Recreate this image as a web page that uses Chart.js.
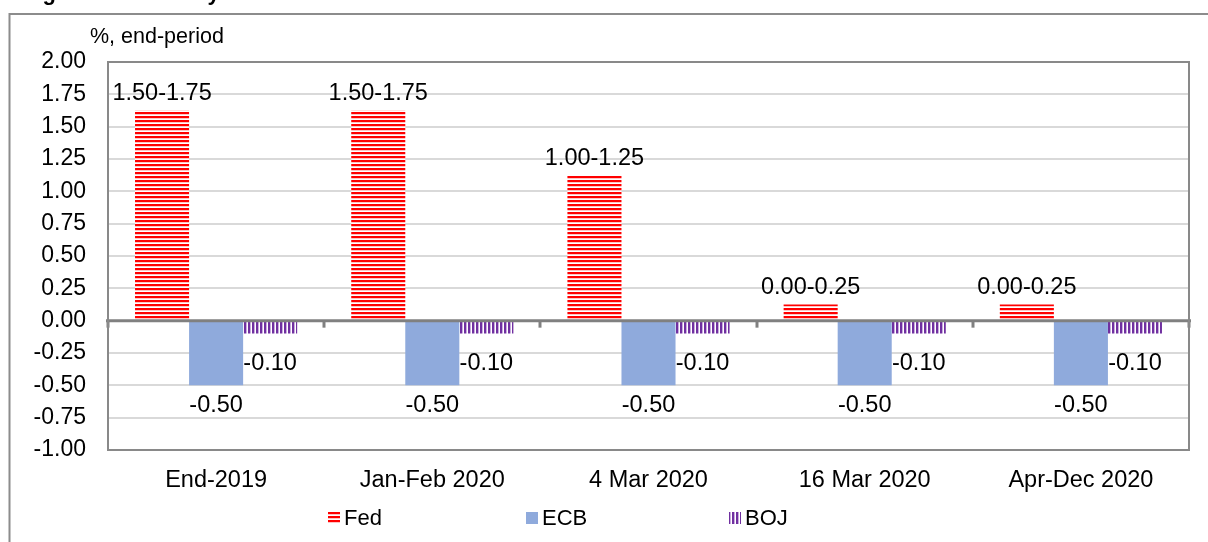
<!DOCTYPE html>
<html>
<head>
<meta charset="utf-8">
<script src="https://cdn.jsdelivr.net/npm/chart.js@4.4.1/dist/chart.umd.min.js"></script>
<style>
  html, body { margin: 0; padding: 0; background: #ffffff; }
  #wrap { position: relative; width: 1208px; height: 542px; overflow: hidden; }
  canvas { display: block; }
</style>
</head>
<body>
<div id="wrap"><canvas id="c" width="1208" height="542"></canvas></div>
<script>
// ---------- data ----------
const categories = ['End-2019', 'Jan-Feb 2020', '4 Mar 2020', '16 Mar 2020', 'Apr-Dec 2020'];
const fedValues = [1.625, 1.625, 1.125, 0.125, 0.125];
const fedLabels = ['1.50-1.75', '1.50-1.75', '1.00-1.25', '0.00-0.25', '0.00-0.25'];
const ecbValues = [-0.50, -0.50, -0.50, -0.50, -0.50];
const bojValues = [-0.10, -0.10, -0.10, -0.10, -0.10];
const seriesNames = ['Fed', 'ECB', 'BOJ'];
const yMin = -1.0, yMax = 2.0, yStep = 0.25;
const axisTitle = '%, end-period';
const figureTitle = 'Figure 1: Monetary Rates of the Three Main Central Banks';

const FONT = '"Liberation Sans", Arial, sans-serif';

// ---------- patterns ----------
function makeFedPattern() {
  const p = document.createElement('canvas');
  p.width = 4; p.height = 4;
  const g = p.getContext('2d');
  g.fillStyle = '#ffffff'; g.fillRect(0, 0, 4, 4);
  g.fillStyle = '#ff0000'; g.fillRect(0, 0, 4, 2);
  g.fillStyle = '#ffc4c4'; g.fillRect(0, 2, 4, 1);
  return g.createPattern(p, 'repeat');
}
function makeBojPattern() {
  const p = document.createElement('canvas');
  p.width = 4; p.height = 4;
  const g = p.getContext('2d');
  g.fillStyle = '#ffffff'; g.fillRect(0, 0, 4, 4);
  g.fillStyle = '#7030a0'; g.fillRect(0, 0, 2, 4);
  g.fillStyle = '#c9acdf'; g.fillRect(2, 0, 1, 4);
  return g.createPattern(p, 'repeat');
}
const fedFill = makeFedPattern();
const ecbFill = '#8faadc';
const bojFill = makeBojPattern();

// ---------- plugins ----------
const decor = {
  id: 'decor',
  beforeDraw(chart) {
    const ctx = chart.ctx;
    ctx.save();
    // outer frame (top & left)
    ctx.strokeStyle = '#8c8c8c';
    ctx.lineWidth = 2;
    ctx.beginPath();
    ctx.moveTo(9.5, 542); ctx.lineTo(9.5, 14); ctx.lineTo(1208, 14);
    ctx.stroke();
    // partially visible figure title (only descenders show)
    ctx.fillStyle = '#000000';
    ctx.font = 'bold 22px ' + FONT;
    ctx.textAlign = 'left';
    ctx.textBaseline = 'bottom';
    ctx.fillText(figureTitle, 23, 5);
    // axis title
    ctx.font = '21.5px ' + FONT;
    ctx.textBaseline = 'middle';
    ctx.fillText(axisTitle, chart.chartArea.left - 18, chart.chartArea.top - 25);
    ctx.restore();
  },
  afterDatasetsDraw(chart) {
    const ctx = chart.ctx;
    const area = chart.chartArea;
    const ys = chart.scales.y;
    const y0 = ys.getPixelForValue(0);
    ctx.save();
    // zero axis line
    ctx.strokeStyle = '#808080';
    ctx.lineWidth = 3;
    ctx.beginPath();
    ctx.moveTo(area.left - 2, y0); ctx.lineTo(area.right + 2, y0);
    ctx.stroke();
    // category tick marks
    const catW = area.width / categories.length;
    ctx.lineWidth = 3;
    for (let i = 0; i <= categories.length; i++) {
      const x = Math.round(area.left + i * catW);
      ctx.beginPath();
      ctx.moveTo(x, y0); ctx.lineTo(x, y0 + 7);
      ctx.stroke();
    }
    // plot border
    ctx.strokeStyle = '#898989';
    ctx.lineWidth = 2;
    ctx.strokeRect(area.left, area.top, area.width, area.height);

    // data labels
    ctx.fillStyle = '#000000';
    ctx.font = '23.5px ' + FONT;
    ctx.textAlign = 'center';
    ctx.textBaseline = 'middle';
    const m0 = chart.getDatasetMeta(0), m1 = chart.getDatasetMeta(1), m2 = chart.getDatasetMeta(2);
    m0.data.forEach((bar, i) => {
      ctx.fillText(fedLabels[i], bar.x, bar.y - 17);
    });
    m1.data.forEach((bar, i) => {
      ctx.fillText(ecbValues[i].toFixed(2), bar.x, bar.y + 20);
    });
    m2.data.forEach((bar, i) => {
      ctx.fillText(bojValues[i].toFixed(2), bar.x, bar.y + 30);
    });

    // legend
    const fills = [fedFill, ecbFill, bojFill];
    const legendX = [328, 526, 729];
    const ly = 518;
    ctx.font = '22px ' + FONT;
    ctx.textAlign = 'left';
    seriesNames.forEach((name, i) => {
      ctx.fillStyle = fills[i];
      ctx.fillRect(legendX[i], ly - 6, 12, 12);
      ctx.fillStyle = '#000000';
      ctx.fillText(name, legendX[i] + 16, ly + 1);
    });
    ctx.restore();
  }
};

// ---------- chart ----------
const ctxEl = document.getElementById('c');
new Chart(ctxEl, {
  type: 'bar',
  data: {
    labels: categories,
    datasets: [
      { label: seriesNames[0], data: fedValues, backgroundColor: fedFill, borderWidth: 0 },
      { label: seriesNames[1], data: ecbValues, backgroundColor: ecbFill, borderWidth: 0 },
      { label: seriesNames[2], data: bojValues, backgroundColor: bojFill, borderWidth: 0 }
    ]
  },
  options: {
    responsive: false,
    animation: false,
    devicePixelRatio: 1,
    layout: { padding: { top: 62, right: 19, bottom: 0, left: 0 } },
    datasets: { bar: { categoryPercentage: 0.75, barPercentage: 1.0 } },
    plugins: {
      legend: { display: false },
      title: { display: false },
      tooltip: { enabled: false }
    },
    scales: {
      x: {
        grid: { display: false, drawTicks: false },
        border: { display: false },
        ticks: {
          color: '#000000',
          font: { family: FONT, size: 23.5 },
          padding: 16,
          maxRotation: 0,
          autoSkip: false
        },
        afterFit(scale) { scale.height = 92; }
      },
      y: {
        min: yMin,
        max: yMax,
        grid: {
          drawTicks: false,
          color: (c) => (c.tick && c.tick.value === 0) ? 'rgba(0,0,0,0)' : '#d9d9d9',
          lineWidth: 2
        },
        border: { display: false },
        ticks: {
          stepSize: yStep,
          color: '#000000',
          font: { family: FONT, size: 23 },
          padding: 22,
          callback: (v) => Number(v).toFixed(2)
        },
        afterFit(scale) { scale.width = 108; }
      }
    }
  },
  plugins: [decor]
});
</script>
</body>
</html>
